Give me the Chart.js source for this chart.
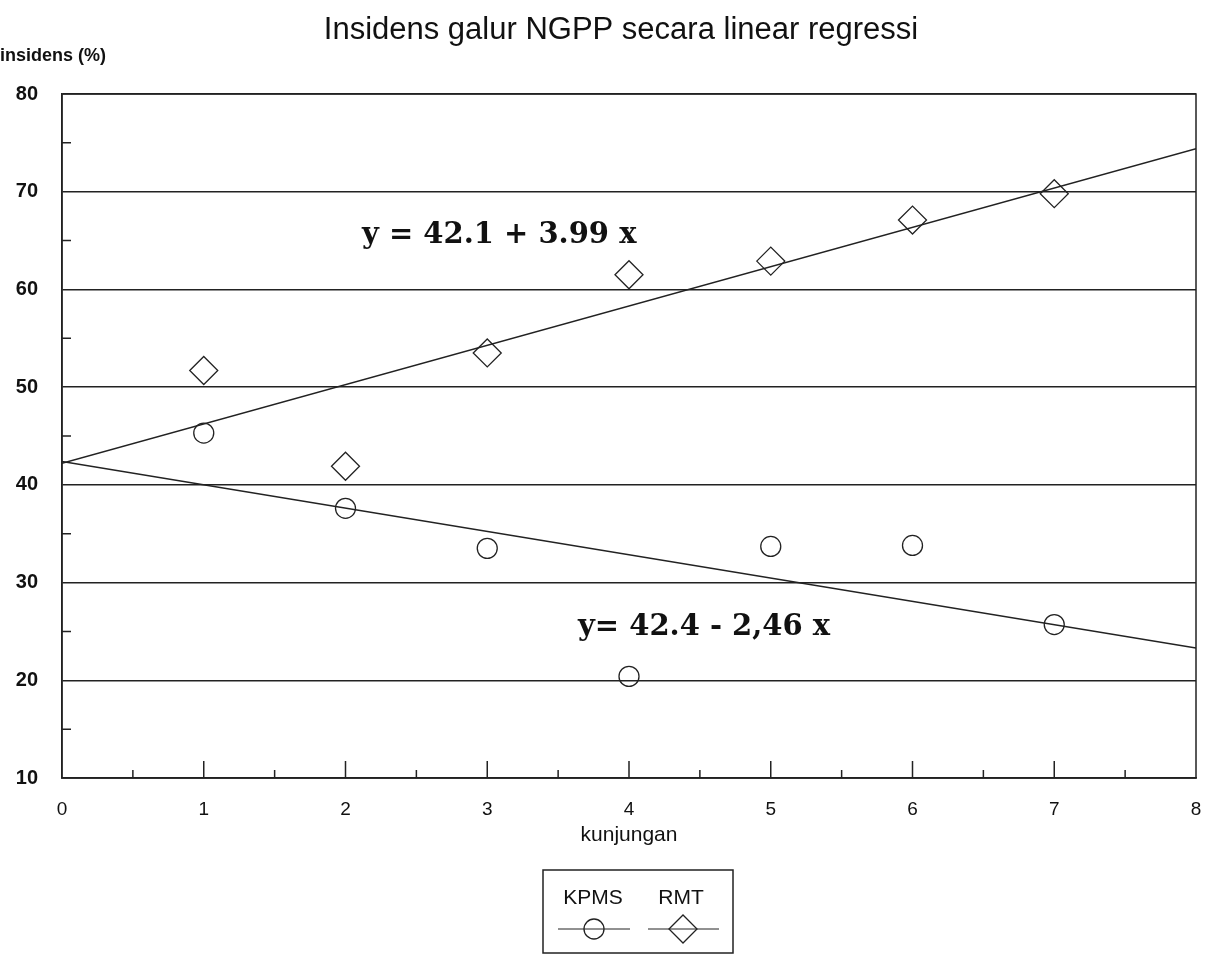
<!DOCTYPE html>
<html>
<head>
<meta charset="utf-8">
<script src="https://cdn.jsdelivr.net/npm/chart.js@4"></script>
<style>
  html, body { margin: 0; padding: 0; background: #fff; }
  #wrap { width: 1208px; height: 955px; }
</style>
</head>
<body>
<div id="wrap"><canvas id="chart" width="1208" height="955"></canvas></div>
<script>
// Visits (kunjungan) and incidence (%)
const visits = [1, 2, 3, 4, 5, 6, 7];
const kpmsValues = [45.3, 37.6, 33.5, 20.4, 33.7, 33.8, 25.7];
const rmtValues = [51.7, 41.9, 53.5, 61.5, 62.9, 67.1, 69.8];

// Regression lines as drawn (end points at x = 0 and x = 8)
const fitX = [0, 8];
const rmtFit = [42.2, 74.4];
const kpmsFit = [42.4, 23.3];

const rmtEquation = 'y = 42.1 + 3.99 x';
const kpmsEquation = 'y= 42.4 - 2,46 x';

const ink = '#222';
const sans = '"Liberation Sans", Arial, sans-serif';
const serif = '"DejaVu Serif", "Liberation Serif", serif';

const toPoints = (xs, ys) => xs.map((x, i) => ({ x, y: ys[i] }));

// Frame, inner ticks, titles, equations and the boxed legend
const decorations = {
    id: 'decorations',
    afterDraw(chart) {
        const { ctx, chartArea: a, scales: { x, y } } = chart;
        ctx.save();
        ctx.strokeStyle = ink;
        ctx.lineWidth = 1.5;
        ctx.strokeRect(a.left, a.top, a.right - a.left, a.bottom - a.top);

        ctx.beginPath();
        for (let v = 15; v < 80; v += 10) {
            const py = y.getPixelForValue(v);
            ctx.moveTo(a.left, py);
            ctx.lineTo(a.left + 9, py);
        }
        for (let v = 0.5; v < 8; v += 0.5) {
            const px = x.getPixelForValue(v);
            const len = Number.isInteger(v) ? 17 : 8;
            ctx.moveTo(px, a.bottom);
            ctx.lineTo(px, a.bottom - len);
        }
        ctx.stroke();

        ctx.fillStyle = '#111';
        ctx.textBaseline = 'middle';
        ctx.textAlign = 'center';
        ctx.font = '31px ' + sans;
        ctx.fillText('Insidens galur NGPP secara linear regressi', 621, 30);
        ctx.font = '21px ' + sans;
        ctx.fillText('kunjungan', 629, 835);
        ctx.textAlign = 'left';
        ctx.font = 'bold 18px ' + sans;
        ctx.fillText('insidens (%)', 0, 56);

        ctx.textBaseline = 'alphabetic';
        ctx.font = 'bold 29px ' + serif;
        ctx.fillText(rmtEquation, x.getPixelForValue(2.116), y.getPixelForValue(64.75));
        ctx.fillText(kpmsEquation, x.getPixelForValue(3.64), y.getPixelForValue(24.63));

        // legend box
        ctx.strokeRect(543, 870, 190, 83);
        ctx.textAlign = 'center';
        ctx.textBaseline = 'middle';
        ctx.font = '21px ' + sans;
        ctx.fillText('KPMS', 593, 898);
        ctx.fillText('RMT', 681, 898);
        ctx.lineWidth = 1;
        ctx.beginPath();
        ctx.moveTo(558, 929); ctx.lineTo(630, 929);
        ctx.moveTo(648, 929); ctx.lineTo(719, 929);
        ctx.stroke();
        ctx.fillStyle = 'rgba(0,0,0,0)';
        ctx.lineWidth = 1.3;
        Chart.helpers.drawPoint(ctx, { pointStyle: 'circle', radius: 10, borderWidth: 1.3 }, 594, 929);
        Chart.helpers.drawPoint(ctx, { pointStyle: 'rectRot', radius: 14, borderWidth: 1.3 }, 683, 929);
        ctx.restore();
    }
};

new Chart(document.getElementById('chart'), {
    type: 'scatter',
    data: {
        datasets: [
            {
                label: 'KPMS',
                data: toPoints(visits, kpmsValues),
                pointStyle: 'circle',
                pointRadius: 10,
                borderWidth: 1.3,
                borderColor: ink,
                backgroundColor: 'rgba(0,0,0,0)'
            },
            {
                label: 'RMT',
                data: toPoints(visits, rmtValues),
                pointStyle: 'rectRot',
                pointRadius: 14,
                borderWidth: 1.3,
                borderColor: ink,
                backgroundColor: 'rgba(0,0,0,0)'
            },
            {
                label: 'RMT fit',
                type: 'line',
                data: toPoints(fitX, rmtFit),
                showLine: true,
                pointRadius: 0,
                borderWidth: 1.5,
                borderColor: ink
            },
            {
                label: 'KPMS fit',
                type: 'line',
                data: toPoints(fitX, kpmsFit),
                showLine: true,
                pointRadius: 0,
                borderWidth: 1.5,
                borderColor: ink
            }
        ]
    },
    options: {
        responsive: false,
        animation: false,
        layout: { autoPadding: false, padding: { top: 94, right: 12, left: 0, bottom: 127 } },
        plugins: {
            legend: { display: false },
            tooltip: { enabled: false }
        },
        scales: {
            x: {
                type: 'linear',
                min: 0,
                max: 8,
                afterFit: s => { s.height = 50; s.paddingLeft = 0; s.paddingRight = 0; },
                grid: { display: false, drawTicks: false },
                border: { color: ink, width: 1.5 },
                ticks: { stepSize: 1, padding: 20, color: '#111', font: { family: sans, size: 19 } }
            },
            y: {
                min: 10,
                max: 80,
                afterFit: s => { s.width = 62; s.paddingTop = 0; s.paddingBottom = 0; },
                grid: { color: ink, lineWidth: 1.5, drawTicks: false },
                border: { color: ink, width: 1.5 },
                ticks: { stepSize: 10, padding: 24, color: '#111', font: { family: sans, size: 20, weight: 'bold' } }
            }
        }
    },
    plugins: [decorations]
});
</script>
</body>
</html>
